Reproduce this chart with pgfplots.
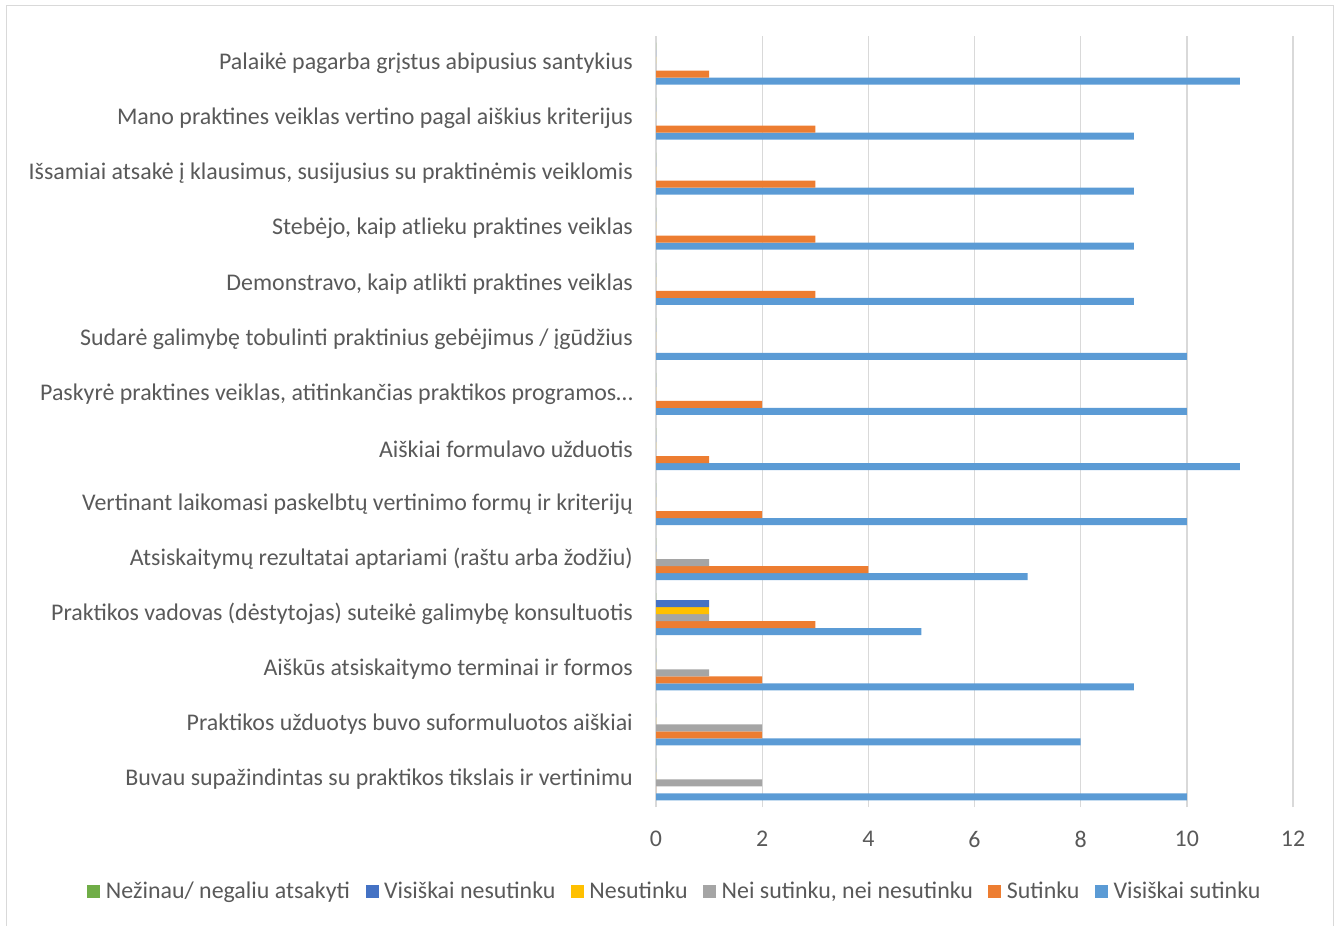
\documentclass[border=0pt]{standalone}
\usepackage{pgfplots}
\pgfplotsset{compat=1.18}
\usepackage{fontspec}
\setmainfont{Carlito}
\definecolor{txt}{HTML}{595959}
\definecolor{grd}{HTML}{D9D9D9}
\definecolor{cVS}{HTML}{5B9BD5}
\definecolor{cS}{HTML}{ED7D31}
\definecolor{cN}{HTML}{A5A5A5}
\definecolor{cNS}{HTML}{FFC000}
\definecolor{cVN}{HTML}{4472C4}
\definecolor{cNZ}{HTML}{70AD47}

\begin{document}
\begin{tikzpicture}[x=1bp,y=1bp]
\useasboundingbox (0,0) rectangle (1340,925);
\draw[grd, line width=1bp] (6.5,-5) rectangle (1333,919);
\begin{axis}[
  at={(656bp,118bp)}, anchor=south west,
  scale only axis, width=637bp, height=771bp,
  xmin=0, xmax=12, ymin=-0.5, ymax=13.5,
  xbar=0pt, bar width=7bp,
  xtick={0,2,...,12}, ytick={0,...,13},
  xmajorgrids, grid style={grd, line width=1.3bp},
  axis line style={draw=none}, major tick length=0pt,
  /pgf/number format/assume math mode=true,
  font=\fontsize{24}{28}\selectfont,
  tick label style={text=txt},
  yticklabel style={anchor=east, inner sep=0pt, xshift=-23bp},
  xticklabel style={inner sep=0pt, yshift=-24bp},
  yticklabels={
    Buvau supažindintas su praktikos tikslais ir vertinimu,
    Praktikos užduotys buvo suformuluotos aiškiai,
    Aiškūs atsiskaitymo terminai ir formos,
    Praktikos vadovas (dėstytojas) suteikė galimybę konsultuotis,
    Atsiskaitymų rezultatai aptariami (raštu arba žodžiu),
    Vertinant laikomasi paskelbtų vertinimo formų ir kriterijų,
    Aiškiai formulavo užduotis,
    {Paskyrė praktines veiklas, atitinkančias praktikos programos…},
    Sudarė galimybę tobulinti praktinius gebėjimus / įgūdžius,
    {Demonstravo, kaip atlikti praktines veiklas},
    {Stebėjo, kaip atlieku praktines veiklas},
    {Išsamiai atsakė į klausimus, susijusius su praktinėmis veiklomis},
    Mano praktines veiklas vertino pagal aiškius kriterijus,
    Palaikė pagarba grįstus abipusius santykius},
  reverse legend,
  legend columns=6,
  legend style={at={(0.0298,-0.109)}, anchor=center, draw=none,
    text=txt, font=\fontsize{24}{28}\selectfont,
    /tikz/every odd column/.append style={column sep=3.5bp},
    /tikz/every even column/.append style={column sep=13.5bp}},
  legend image code/.code={\fill[#1] (0bp,-6.5bp) rectangle (13bp,6.5bp);},
]
\addplot[fill=cVS, draw=none] coordinates {
  (10,0) (8,1) (9,2) (5,3) (7,4) (10,5) (11,6) (10,7) (10,8) (9,9) (9,10) (9,11) (9,12) (11,13)};
\addplot[fill=cS, draw=none] coordinates {
  (0,0) (2,1) (2,2) (3,3) (4,4) (2,5) (1,6) (2,7) (0,8) (3,9) (3,10) (3,11) (3,12) (1,13)};
\addplot[fill=cN, draw=none] coordinates {
  (2,0) (2,1) (1,2) (1,3) (1,4) (0,5) (0,6) (0,7) (0,8) (0,9) (0,10) (0,11) (0,12) (0,13)};
\addplot[fill=cNS, draw=none] coordinates {
  (0,0) (0,1) (0,2) (1,3) (0,4) (0,5) (0,6) (0,7) (0,8) (0,9) (0,10) (0,11) (0,12) (0,13)};
\addplot[fill=cVN, draw=none] coordinates {
  (0,0) (0,1) (0,2) (1,3) (0,4) (0,5) (0,6) (0,7) (0,8) (0,9) (0,10) (0,11) (0,12) (0,13)};
\addplot[fill=cNZ, draw=none] coordinates {
  (0,0) (0,1) (0,2) (0,3) (0,4) (0,5) (0,6) (0,7) (0,8) (0,9) (0,10) (0,11) (0,12) (0,13)};
\legend{Visiškai sutinku, Sutinku, {Nei sutinku, nei nesutinku}, Nesutinku, Visiškai nesutinku, Nežinau/ negaliu atsakyti}
\end{axis}
\end{tikzpicture}
\end{document}
